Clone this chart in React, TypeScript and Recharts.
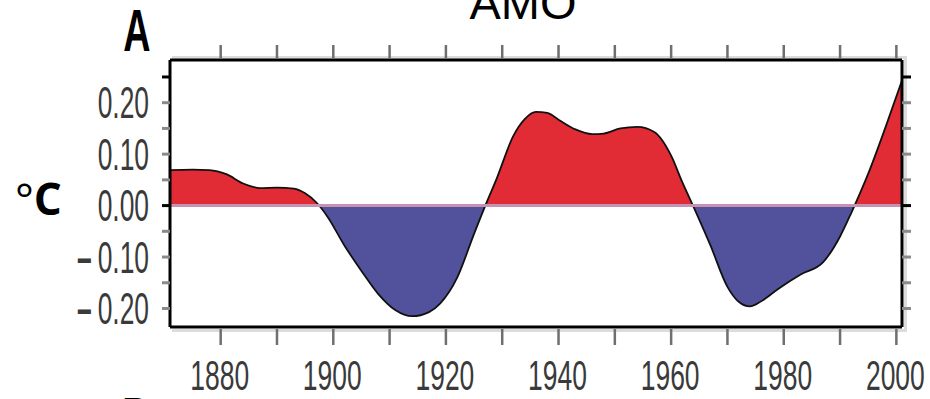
import { AreaChart, Area, XAxis, YAxis, ReferenceLine } from 'recharts'

// AMO index (°C)
const years = [
  1871, 1875, 1878, 1881, 1884, 1887, 1890, 1893, 1895, 1897, 1899, 1902, 1905, 1908, 1911, 1914,
  1917, 1919, 1922, 1925, 1927, 1929, 1932, 1934, 1936, 1938, 1940, 1943, 1946, 1948, 1951, 1954,
  1957, 1960, 1962, 1964, 1967, 1970, 1972, 1974, 1976, 1979, 1983, 1987, 1990, 1992, 1995, 1998, 2001,
]
const amo = [
  0.069, 0.07, 0.069, 0.061, 0.043, 0.034, 0.035, 0.033, 0.024, 0.006, -0.022, -0.078, -0.127, -0.172, -0.203, -0.215,
  -0.207, -0.19, -0.14, -0.055, 0.0, 0.052, 0.136, 0.168, 0.182, 0.18, 0.167, 0.148, 0.139, 0.14, 0.15, 0.153,
  0.143, 0.097, 0.045, -0.003, -0.078, -0.158, -0.187, -0.196, -0.186, -0.162, -0.134, -0.11, -0.06, -0.014, 0.062, 0.15, 0.243,
]

const xTicks = [1880, 1890, 1900, 1910, 1920, 1930, 1940, 1950, 1960, 1970, 1980, 1990, 2000]
const xLabels = [1880, 1900, 1920, 1940, 1960, 1980, 2000]
const yTicks = [0.25, 0.2, 0.15, 0.1, 0.05, 0, -0.05, -0.1, -0.15, -0.2]
const yLabels = [0.2, 0.1, 0, -0.1, -0.2]

const data = years.map((year, i) => ({ year, amo: amo[i] }))

const RED = '#e12c36'
const BLUE = '#52529c'
const LABEL_FONT = '"Liberation Sans", Arial, sans-serif'
const LABEL_COLOR = '#3a3a3a'

// where the fill switches from red to blue inside the area's bounding box
const maxV = Math.max(...amo)
const minV = Math.min(...amo)
const zeroOffset = maxV / (maxV - minV)

const tickColor = (v: number) => (v === 0 || v === 0.25 ? '#000' : '#8a8a8a')

function LeftTick(props: any) {
  const { x, y, payload } = props
  const v = payload.value
  const showLabel = yLabels.some(l => Math.abs(l - v) < 1e-9)
  const txt = Math.abs(v).toFixed(2)
  return (
    <g>
      <line x1={x - 8} x2={x} y1={y} y2={y} stroke={tickColor(v)} strokeWidth={3} />
      {showLabel && (
        <g transform={`translate(${x - 21},${y + 15.5}) scale(0.6,1)`}>
          <text x={0} y={0} textAnchor="end" fontFamily={LABEL_FONT} fontSize={44} fill={LABEL_COLOR}>
            {v < 0 && <tspan fontWeight="bold">–</tspan>}
            <tspan dx={v < 0 ? 10 : 0}>{txt}</tspan>
          </text>
        </g>
      )}
    </g>
  )
}

function RightTick(props: any) {
  const { x, y, payload } = props
  return <line x1={x} x2={x + 9} y1={y} y2={y} stroke={tickColor(payload.value)} strokeWidth={3} />
}

function BottomTick(props: any) {
  const { x, y, payload } = props
  const v = payload.value
  return (
    <g>
      <line x1={x} x2={x} y1={y + 2} y2={y + 18} stroke="#6f6f6f" strokeWidth={2.5} />
      {xLabels.includes(v) && (
        <g transform={`translate(${x - 1},${y + 63}) scale(0.63,1)`}>
          <text x={0} y={0} textAnchor="middle" fontFamily={LABEL_FONT} fontSize={42} fill={LABEL_COLOR}>
            {v}
          </text>
        </g>
      )}
    </g>
  )
}

function TopTick(props: any) {
  const { x, y } = props
  return <line x1={x} x2={x} y1={y - 2} y2={y - 15} stroke="#6f6f6f" strokeWidth={2.5} />
}

export default function App() {
  return (
    <div style={{ position: 'absolute', left: 0, top: 0, width: 930, height: 399, background: '#fff', overflow: 'hidden' }}>
      {/* faint frame shadow */}
      <div
        style={{
          position: 'absolute',
          left: 172,
          top: 56,
          width: 735,
          height: 276,
          boxSizing: 'border-box',
          borderTop: '3px solid #dcdcdc',
          borderRight: '3px solid #dcdcdc',
          borderBottom: '3px solid #dcdcdc',
        }}
      />
      <div style={{ position: 'absolute', left: 0, top: 0 }}>
        <AreaChart width={930} height={399} data={data} margin={{ top: 0, right: 0, bottom: 0, left: 0 }}>
          <defs>
            <linearGradient id="amoFill" x1="0" y1="0" x2="0" y2="1">
              <stop offset={zeroOffset} stopColor={RED} />
              <stop offset={zeroOffset} stopColor={BLUE} />
            </linearGradient>
          </defs>
          <XAxis
            xAxisId="bottom"
            type="number"
            dataKey="year"
            domain={[1871, 2001]}
            allowDataOverflow
            ticks={xTicks}
            interval={0}
            height={72}
            tickLine={false}
            tickSize={0}
            tickMargin={0}
            axisLine={{ stroke: '#000', strokeWidth: 3 }}
            tick={<BottomTick />}
          />
          <XAxis
            xAxisId="top"
            orientation="top"
            type="number"
            dataKey="year"
            domain={[1871, 2001]}
            allowDataOverflow
            ticks={xTicks}
            interval={0}
            height={60}
            tickLine={false}
            tickSize={0}
            tickMargin={0}
            axisLine={{ stroke: '#000', strokeWidth: 3 }}
            tick={<TopTick />}
          />
          <YAxis
            yAxisId="left"
            type="number"
            domain={[-0.236, 0.283]}
            allowDataOverflow
            ticks={yTicks}
            interval={0}
            width={170}
            tickLine={false}
            tickSize={0}
            tickMargin={0}
            axisLine={{ stroke: '#000', strokeWidth: 3 }}
            tick={<LeftTick />}
          />
          <YAxis
            yAxisId="right"
            orientation="right"
            type="number"
            domain={[-0.236, 0.283]}
            allowDataOverflow
            ticks={yTicks}
            interval={0}
            width={28}
            tickLine={false}
            tickSize={0}
            tickMargin={0}
            axisLine={{ stroke: '#000', strokeWidth: 3 }}
            tick={<RightTick />}
          />
          <Area
            xAxisId="bottom"
            yAxisId="left"
            type="monotone"
            dataKey="amo"
            baseValue={0}
            stroke="#111"
            strokeWidth={1.8}
            fill="url(#amoFill)"
            fillOpacity={1}
            dot={false}
            activeDot={false}
            isAnimationActive={false}
          />
          <ReferenceLine xAxisId="bottom" yAxisId="left" y={0} stroke="#c592b2" strokeWidth={3} />
        </AreaChart>
      </div>
      <svg width={930} height={399} style={{ position: 'absolute', left: 0, top: 0, pointerEvents: 'none' }}>
        <text x={523} y={19} textAnchor="middle" fontFamily={LABEL_FONT} fontSize={47} fill="#000">
          AMO
        </text>
        <g transform="translate(137,51) scale(0.63,1)">
          <text x={0} y={0} textAnchor="middle" fontFamily={LABEL_FONT} fontWeight="bold" fontSize={60} fill="#000">
            A
          </text>
        </g>
        <g transform="translate(136,439) scale(0.63,1)">
          <text x={0} y={0} textAnchor="middle" fontFamily={LABEL_FONT} fontWeight="bold" fontSize={60} fill="#000">
            B
          </text>
        </g>
        <text x={15} y={215} fontFamily='"Open Sans", sans-serif' fontSize={44} fill="#000">
          <tspan fontWeight="normal">°</tspan>
          <tspan fontWeight="bold">C</tspan>
        </text>
      </svg>
    </div>
  )
}
